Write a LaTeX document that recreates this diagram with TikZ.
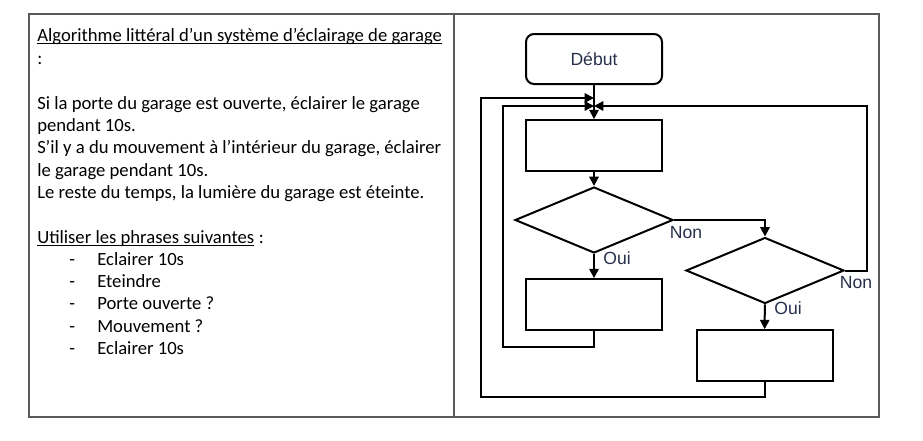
\documentclass[tikz,border=0pt]{standalone}
\usepackage{fontspec}
\setmainfont{Carlito}
\newfontfamily\chartfont{Liberation Sans}
\usetikzlibrary{arrows.meta,positioning,shapes.geometric}
\definecolor{Grid}{HTML}{5A5A5A}
\definecolor{LabelInk}{HTML}{26304A}

\begin{document}
\begin{tikzpicture}[x=0.75pt, y=-0.75pt, >={Triangle[length=7pt,width=7pt]},
  every node/.style={inner sep=0pt},
  txt/.style={anchor=base west, font=\fontsize{14}{16.5}\selectfont},
  box/.style={draw, line width=1.5pt, minimum width=102pt, minimum height=38pt},
  decision/.style={diamond, draw, line width=1.5pt, minimum width=118.5pt, minimum height=49.5pt},
  flow/.style={line width=1.5pt, ->},
  lbl/.style={font=\chartfont\fontsize{13.2}{15}\selectfont, text=LabelInk}]
  \useasboundingbox (0,0) rectangle (923,440);

  % table
  \draw[Grid, line width=1.2pt] (29,14) rectangle (879,417);
  \draw[Grid, line width=1.2pt] (454,14) -- (454,417);

  % left column
  \node[txt] (t1) at (37,41) {Algorithme littéral d’un système d’éclairage de garage};
  \node[txt] (t2) at (37,64) {:};
  \node[txt] (t3) at (37,109) {Si la porte du garage est ouverte, éclairer le garage};
  \node[txt] (t4) at (37,131) {pendant 10s.};
  \node[txt] (t5) at (37,153) {S’il y a du mouvement à l’intérieur du garage, éclairer};
  \node[txt] (t6) at (37,176) {le garage pendant 10s.};
  \node[txt] (t7) at (37,198) {Le reste du temps, la lumière du garage est éteinte.};
  \node[txt] (t8) at (37,243) {Utiliser les phrases suivantes};
  \node[txt] (t8c) at (t8.base east) {\ :};
  \foreach \y/\phrase [count=\i] in {265/Eclairer 10s, 287/Eteindre, 309/Porte ouverte ?, 332/Mouvement ?, 354/Eclairer 10s} {
    \node[txt] (d\i) at (69,\y) {-};
    \node[txt] (p\i) at (97,\y) {\phrase};
  }
  \draw[line width=0.7pt] ([yshift=-2pt]t1.base west) -- ([yshift=-2pt]t1.base east);
  \draw[line width=0.7pt] ([yshift=-2pt]t8.base west) -- ([yshift=-2pt]t8.base east);

  % flowchart
  \node[box, rounded corners=6pt, minimum height=37.5pt, lbl] (start) at (594,59) {Début};
  \node[box] (act1) at (594,145.5) {};
  \node[decision] (test1) at (594,220) {};
  \node[box] (act2) at (594,304.5) {};
  \node[decision] (test2) at (765,270.5) {};
  \node[box] (act3) at (764.5,355.5) {};
  \coordinate (join1) at (594,98);
  \coordinate (join2) at (594,106);
  \coordinate (outerL) at (481,397);
  \coordinate (innerL) at (503,347);
  \coordinate (outerR) at (867,106);

  \draw[flow] (start) -- (act1);
  \draw[flow] (act1) -- (test1);
  \draw[flow] (test1) -- (act2);
  \draw[flow] (test2) -- (act3);
  \draw[flow] (test1.east) -| (test2.north);
  \draw[flow] (act3.south) |- (outerL) |- (join1);
  \draw[flow] (act2.south) |- (innerL) |- (join2);
  \draw[flow] (test2.east) -| (outerR) -- (join2);

  \node[lbl] (no1) at (686,233) {Non};
  \node[lbl] (yes1) at (617,258) {Oui};
  \node[lbl] (yes2) at (788,308) {Oui};
  \node[lbl] (no2) at (856,283) {Non};
\end{tikzpicture}
\end{document}
